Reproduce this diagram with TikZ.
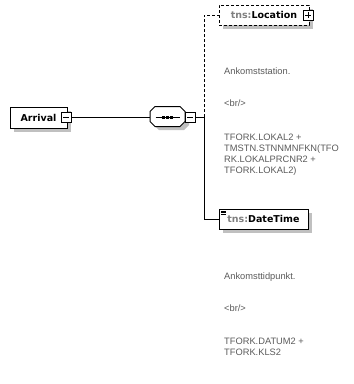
\documentclass[tikz,border=0pt]{standalone}
\usepackage{fontspec}
\setmainfont{Liberation Sans}
\newfontfamily\boxfont{DejaVu Sans}
\usetikzlibrary{shadows}
\definecolor{shadowgray}{RGB}{192,192,192}
\definecolor{prefixgray}{RGB}{128,128,128}
\definecolor{anngray}{RGB}{90,90,90}
\tikzset{
  boxshadow/.style={drop shadow={shadow xshift=4pt,shadow yshift=-3.5pt,fill=shadowgray,opacity=1}},
  elembox/.style={draw=black,line width=1pt,fill=white,rectangle,inner sep=0pt,
    font=\boxfont\bfseries\fontsize{9.5}{11}\selectfont,boxshadow},
  iconbox/.style={draw=black,line width=1pt,fill=white,rectangle,inner sep=0pt,
    minimum width=10pt,minimum height=10pt,
    drop shadow={shadow xshift=1pt,shadow yshift=-1pt,fill=black,opacity=1}},
  minusicon/.style={iconbox,path picture={\draw[line width=1pt] ([xshift=-3pt]path picture bounding box.center) -- ([xshift=3pt]path picture bounding box.center);}},
  plusicon/.style={iconbox,path picture={\draw[line width=1pt] ([xshift=-3pt]path picture bounding box.center) -- ([xshift=3pt]path picture bounding box.center) ([yshift=-3pt]path picture bounding box.center) -- ([yshift=3pt]path picture bounding box.center);}},
  anntext/.style={anchor=base west,inner sep=0pt,align=left,text=anngray,
    font=\fontsize{9.3}{11}\selectfont},
  conn/.style={line width=1pt,draw=black},
}
\begin{document}
\begin{tikzpicture}[x=1pt,y=-1pt]
\useasboundingbox (0,0) rectangle (354,384);
% Arrival element
\node[elembox,minimum width=57pt,minimum height=21pt] (arrival) at (38.5,117.5)
  {Arrival\hspace{5pt}};
\node[minusicon] (arricon) at (66,117) {};
% sequence compositor (octagon drawn around the node)
\node[rectangle,inner sep=0pt,minimum width=35pt,minimum height=20pt] (seq) at (167.5,116.5) {};
\begin{scope}[shift={(seq.center)}]
  \fill[shadowgray] (-8.5,-6.5) -- (16.5,-6.5) -- (21.5,-1.5) -- (21.5,8.5) -- (16.5,13.5) -- (-8.5,13.5) -- (-13.5,8.5) -- (-13.5,-1.5) -- cycle;
  \draw[line width=1pt,fill=white] (-12.5,-10) -- (12.5,-10) -- (17.5,-5) -- (17.5,5) -- (12.5,10) -- (-12.5,10) -- (-17.5,5) -- (-17.5,-5) -- cycle;
  \draw[line width=1pt] (-12,0.5) -- (12,0.5);
  \foreach \dx in {-4,0,4}{\fill (\dx-1.3,-1) rectangle (\dx+1.3,2);}
\end{scope}
\node[minusicon] (seqicon) at (190,117) {};
% child elements
\node[elembox,dashed,dash pattern=on 3pt off 2pt,minimum width=90pt,minimum height=20pt] (loc) at (264,15)
  {\textcolor{prefixgray}{tns:}Location\hspace{5pt}};
\node[plusicon] (locicon) at (308,15) {};
\node[elembox,minimum width=89pt,minimum height=20pt,
  path picture={
    \foreach \dy in {2,3.6,5.2}{\draw[line width=0.7pt] ([xshift=2pt,yshift=-\dy pt]path picture bounding box.north west) -- ++(5pt,0pt);}
  }] (dt) at (263.5,219) {\textcolor{prefixgray}{tns:}DateTime};
% connectors
\coordinate (junc) at (204,117);
\draw[conn] (arricon) -- (seq.west |- arricon);
\draw[conn] (seqicon) -- (junc);
\draw[conn,dashed,dash pattern=on 3pt off 2pt] (junc) |- (loc.west);
\draw[conn] (junc) |- (dt.west);
% annotations
\node[anntext] (ann1a) at (224,74.5) {Ankomststation.};
\node[anntext] (ann1b) at (224,106) {<br/>};
\node[anntext] (ann1c) at (224,173) {TFORK.LOKAL2 +\\TMSTN.STNNMNFKN(TFO\\RK.LOKALPRCNR2 +\\TFORK.LOKAL2)};
\node[anntext] (ann2a) at (224,279.5) {Ankomsttidpunkt.};
\node[anntext] (ann2b) at (224,311) {<br/>};
\node[anntext] (ann2c) at (224,355.5) {TFORK.DATUM2 +\\TFORK.KLS2};
\end{tikzpicture}
\end{document}
